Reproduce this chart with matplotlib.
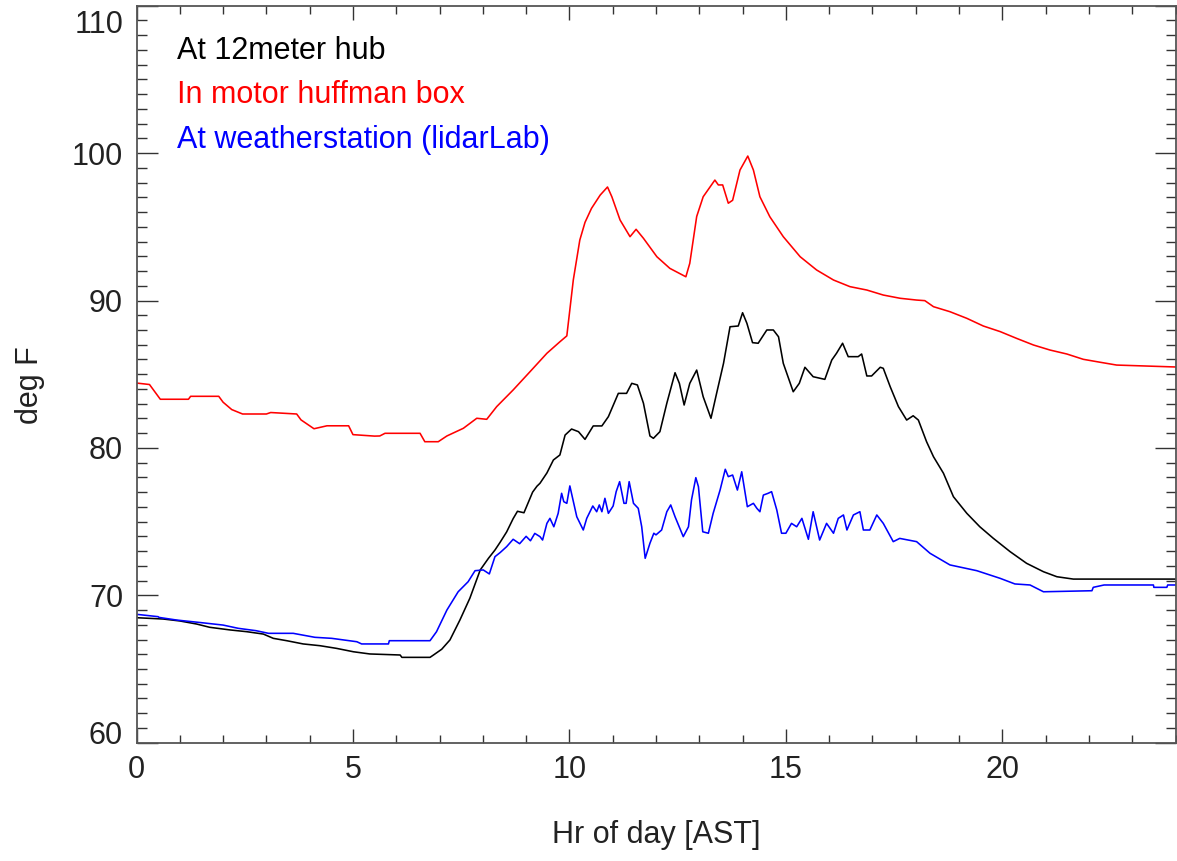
import matplotlib
matplotlib.use("Agg")
import matplotlib.pyplot as plt
from matplotlib.ticker import MultipleLocator, FixedLocator
from matplotlib.transforms import ScaledTranslation

plt.rcParams['font.family'] = ['Liberation Sans', 'DejaVu Sans']

# ---- data (hour of day AST, deg F) ----
hub_hr = [0, 0.62, 1.0, 1.39, 1.69, 2.16, 2.55, 2.93, 3.16, 3.47, 3.85, 4.24, 4.62, 5.01, 5.39,
          6.09, 6.13, 6.78, 6.86, 7.05, 7.24, 7.47, 7.70, 7.94, 8.13, 8.28, 8.4, 8.55, 8.7, 8.8,
          8.95, 9.05, 9.15, 9.25, 9.32, 9.48, 9.63, 9.78, 9.90, 10.05, 10.21, 10.36, 10.55, 10.75,
          10.90, 11.13, 11.32, 11.44, 11.57, 11.71, 11.86, 11.94, 12.09, 12.25, 12.44, 12.54, 12.65,
          12.78, 12.94, 13.09, 13.27, 13.40, 13.56, 13.71, 13.90, 14.00, 14.10, 14.23, 14.36, 14.56,
          14.71, 14.83, 14.94, 15.17, 15.31, 15.44, 15.63, 15.90, 16.06, 16.17, 16.31, 16.44, 16.67,
          16.75, 16.87, 16.98, 17.18, 17.25, 17.41, 17.60, 17.79, 17.94, 18.06, 18.25, 18.41, 18.64,
          18.87, 19.18, 19.48, 19.79, 20.18, 20.56, 20.95, 21.26, 21.64, 24.0]
hub_temp = [68.48, 68.39, 68.26, 68.05, 67.83, 67.65, 67.53, 67.37, 67.08, 66.92, 66.70, 66.58,
            66.40, 66.17, 66.02, 65.95, 65.79, 65.79, 65.95, 66.34, 66.97, 68.32, 69.80, 71.72,
            72.51, 73.07, 73.6, 74.3, 75.2, 75.7, 75.6, 76.3, 77.0, 77.4, 77.6, 78.3, 79.18, 79.52,
            80.87, 81.28, 81.1, 80.58, 81.49, 81.49, 82.12, 83.70, 83.70, 84.38, 84.27, 83.03,
            80.81, 80.65, 81.1, 83.03, 85.1, 84.38, 82.91, 84.38, 85.28, 83.47, 82.01, 83.70,
            85.74, 88.22, 88.27, 89.17, 88.45, 87.14, 87.10, 88.0, 88.0, 87.54, 85.74, 83.81,
            84.38, 85.47, 84.83, 84.65, 85.96, 86.42, 87.10, 86.19, 86.19, 86.37, 84.88, 84.88,
            85.47, 85.40, 84.15, 82.8, 81.89, 82.18, 81.89, 80.42, 79.4, 78.28, 76.69, 75.56,
            74.65, 73.87, 72.96, 72.17, 71.6, 71.26, 71.1, 71.1]

box_hr = [0, 0.3, 0.35, 0.55, 1.2, 1.25, 1.9, 2.0, 2.2, 2.45, 3.0, 3.1, 3.7, 3.8, 4.1, 4.4, 4.9,
          5.0, 5.5, 5.62, 5.74, 6.55, 6.66, 6.97, 7.17, 7.55, 7.86, 8.09, 8.32, 8.70, 9.09, 9.48,
          9.78, 9.94, 10.09, 10.24, 10.36, 10.51, 10.71, 10.88, 10.98, 11.17, 11.40, 11.54, 11.71,
          12.02, 12.32, 12.69, 12.78, 12.94, 13.09, 13.36, 13.44, 13.54, 13.67, 13.77, 13.94,
          14.12, 14.25, 14.40, 14.63, 14.94, 15.33, 15.71, 16.10, 16.48, 16.87, 17.25, 17.64,
          18.02, 18.21, 18.41, 18.79, 19.18, 19.56, 19.95, 20.33, 20.72, 21.10, 21.49, 21.87,
          22.26, 22.64, 24.0]
box_temp = [84.4, 84.3, 84.1, 83.3, 83.3, 83.5, 83.5, 83.1, 82.6, 82.3, 82.3, 82.4, 82.3, 81.9,
            81.3, 81.5, 81.5, 80.9, 80.8, 80.81, 80.99, 80.99, 80.42, 80.42, 80.81, 81.33, 82.01,
            81.94, 82.8, 83.93, 85.17, 86.42, 87.2, 87.6, 91.4, 94.1, 95.3, 96.25, 97.15, 97.7,
            97.04, 95.46, 94.33, 94.83, 94.22, 92.97, 92.18, 91.61, 92.52, 95.7, 97.04, 98.17,
            97.84, 97.84, 96.6, 96.8, 98.85, 99.8, 98.85, 97.04, 95.68, 94.33, 92.97, 92.07,
            91.39, 90.94, 90.71, 90.37, 90.15, 90.03, 89.99, 89.58, 89.24, 88.79, 88.27, 87.89,
            87.43, 86.98, 86.64, 86.37, 86.01, 85.81, 85.62, 85.49]

stn_hr = [0, 0.5, 0.52, 0.93, 1.51, 2.0, 2.35, 2.76, 3.05, 3.62, 4.12, 4.51, 5.09, 5.20, 5.82,
          5.84, 6.78, 6.93, 7.17, 7.43, 7.66, 7.82, 8.01, 8.15, 8.28, 8.4, 8.55, 8.7, 8.85, 9.0,
          9.1, 9.2, 9.32, 9.38, 9.48, 9.55, 9.64, 9.74, 9.82, 9.87, 9.94, 10.01, 10.17, 10.32,
          10.40, 10.54, 10.63, 10.69, 10.75, 10.82, 10.90, 11.01, 11.08, 11.16, 11.26, 11.31,
          11.38, 11.48, 11.59, 11.67, 11.75, 11.86, 11.95, 12.0, 12.13, 12.25, 12.34, 12.44,
          12.63, 12.75, 12.82, 12.92, 12.98, 13.08, 13.21, 13.32, 13.48, 13.60, 13.67, 13.77,
          13.88, 13.98, 14.11, 14.25, 14.33, 14.4, 14.48, 14.59, 14.67, 14.79, 14.90, 15.0,
          15.13, 15.25, 15.37, 15.52, 15.63, 15.78, 15.94, 16.10, 16.21, 16.33, 16.41, 16.56,
          16.71, 16.79, 16.94, 17.10, 17.25, 17.48, 17.63, 18.02, 18.33, 18.79, 19.41, 19.95,
          20.29, 20.64, 20.95, 22.07, 22.10, 22.35, 23.49, 23.5, 23.8, 23.82, 24.0]
stn_temp = [68.71, 68.55, 68.5, 68.32, 68.14, 67.98, 67.76, 67.6, 67.42, 67.42, 67.15, 67.08,
            66.85, 66.70, 66.70, 66.92, 66.92, 67.53, 69.0, 70.24, 70.92, 71.67, 71.72, 71.45,
            72.62, 72.9, 73.3, 73.8, 73.5, 74.0, 73.7, 74.2, 73.98, 73.75, 74.88, 75.22, 74.65,
            75.56, 76.92, 76.35, 76.24, 77.42, 75.33, 74.43, 75.22, 76.06, 75.67, 76.13, 75.67,
            76.58, 75.56, 76.06, 77.03, 77.71, 76.24, 76.24, 77.71, 76.24, 75.90, 74.65, 72.51,
            73.53, 74.21, 74.1, 74.43, 75.67, 76.13, 75.33, 73.98, 74.65, 76.47, 77.98, 77.37,
            74.31, 74.21, 75.56, 77.14, 78.55, 78.05, 78.16, 77.14, 78.38, 76.01, 76.24, 75.90,
            75.67, 76.80, 76.92, 77.03, 75.79, 74.21, 74.21, 74.88, 74.65, 75.22, 73.80, 75.67,
            73.75, 74.88, 74.21, 75.22, 75.45, 74.43, 75.45, 75.67, 74.43, 74.43, 75.45, 74.88,
            73.64, 73.86, 73.64, 72.85, 72.06, 71.67, 71.15, 70.77, 70.70, 70.24, 70.31, 70.54,
            70.7, 70.7, 70.54, 70.54, 70.7, 70.7]

series_labels = ["At 12meter hub", "In motor huffman box", "At weatherstation (lidarLab)"]
series_colors = ["black", "#ff0000", "#0000ff"]

x_ticks = [0, 5, 10, 15, 20]
y_ticks = [60, 70, 80, 90, 100, 110]

# ---- figure ----
fig = plt.figure(figsize=(11.77, 8.61), dpi=100)
ax = fig.add_axes([136.5 / 1177, (861 - 742.7) / 861, 1039 / 1177, 737 / 861])

ax.plot(hub_hr, hub_temp, color=series_colors[0], lw=1.15)
ax.plot(box_hr, box_temp, color=series_colors[1], lw=1.15)
ax.plot(stn_hr, stn_temp, color=series_colors[2], lw=1.15)

ax.set_xlim(0, 24)
ax.set_ylim(60, 110)

ax.xaxis.set_major_locator(FixedLocator(x_ticks))
ax.xaxis.set_minor_locator(MultipleLocator(1))
ax.yaxis.set_major_locator(FixedLocator(y_ticks))
ax.yaxis.set_minor_locator(MultipleLocator(1))

spine_col = "#555555"
for s in ax.spines.values():
    s.set_color(spine_col)
    s.set_linewidth(1.3)

ax.xaxis.set_tick_params(which='major', direction='in', length=10.4, width=1.0,
                         top=True, bottom=True, color='#333333', pad=9.0,
                         labelsize=22, labelcolor='#222222')
ax.xaxis.set_tick_params(which='minor', direction='in', length=5.5, width=1.0,
                         top=True, bottom=True, color='#333333')
ax.yaxis.set_tick_params(which='major', direction='in', length=14.9, width=1.0,
                         left=True, right=True, color='#333333', pad=9.7,
                         labelsize=22, labelcolor='#222222')
ax.yaxis.set_tick_params(which='minor', direction='in', length=7.4, width=1.0,
                         left=True, right=True, color='#333333')

ax.set_xticklabels([str(v) for v in x_ticks])
ax.set_yticklabels([str(v) for v in y_ticks])

# keep edge y labels inside the frame
ylabs = ax.get_yticklabels()
ylabs[0].set_transform(ylabs[0].get_transform() + ScaledTranslation(0, 10 / 100, fig.dpi_scale_trans))
ylabs[-1].set_transform(ylabs[-1].get_transform() + ScaledTranslation(0, -16 / 100, fig.dpi_scale_trans))

ax.set_xlabel("Hr of day [AST]", fontsize=22, color='#222222')
ax.xaxis.label.set_va('center')
ax.xaxis.set_label_coords(0.5, -0.125)
ax.set_ylabel("deg F", fontsize=22, color='#222222')
ax.yaxis.label.set_va('center')
ax.yaxis.set_label_coords(-0.1025, 0.485)

ybase = [0.9277, 0.868, 0.807]
for lab, col, yb in zip(series_labels, series_colors, ybase):
    ax.text(0.039, yb, lab, transform=ax.transAxes, color=col, fontsize=22,
            ha='left', va='baseline')

fig.savefig("out.png", dpi=100)
